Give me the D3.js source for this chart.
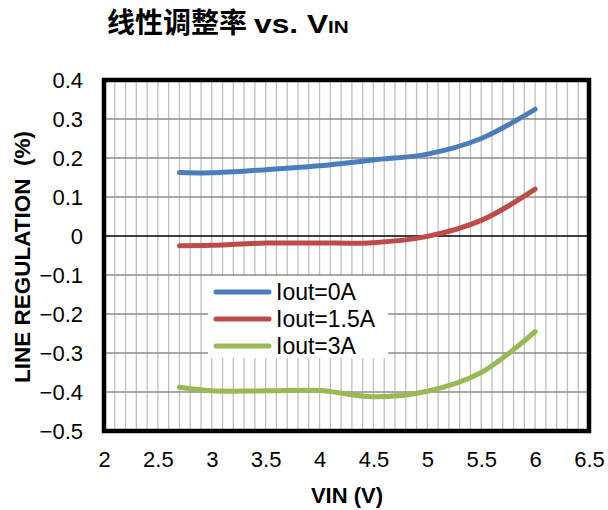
<!DOCTYPE html>
<html><head><meta charset="utf-8">
<script src="https://cdn.jsdelivr.net/npm/d3@7"></script>
<style>body{margin:0;background:#fff}svg{display:block}</style>
</head><body>
<svg id="c" width="608" height="510"></svg>
<script>
const vin = [2.7, 3.0, 3.5, 4.0, 4.5, 5.0, 5.5, 6.0];
const iout0 = [0.163, 0.162, 0.170, 0.180, 0.195, 0.210, 0.250, 0.325];
const iout15 = [-0.025, -0.024, -0.018, -0.018, -0.017, -0.001, 0.040, 0.120];
const iout3 = [-0.388, -0.397, -0.397, -0.396, -0.412, -0.398, -0.350, -0.245];
const seriesNames = ["Iout=0A", "Iout=1.5A", "Iout=3A"];
const seriesColors = ["#4A7EBB", "#BE4B48", "#98B954"];
const xTicks = [2, 2.5, 3, 3.5, 4, 4.5, 5, 5.5, 6, 6.5];
const yTicks = [0.4, 0.3, 0.2, 0.1, 0, -0.1, -0.2, -0.3, -0.4, -0.5];

const svg = d3.select("#c");
const x = d3.scaleLinear().domain([2, 6.5]).range([104, 589]);
const y = d3.scaleLinear().domain([-0.5, 0.4]).range([431, 80]);
const font = "Arial, 'Liberation Sans', sans-serif";

// vertical minor grid
const vgrid = d3.range(21, 65).map(d => d / 10);
svg.append("g").selectAll("line").data(vgrid).join("line")
  .attr("x1", d => x(d)).attr("x2", d => x(d))
  .attr("y1", y(0.4)).attr("y2", y(-0.5))
  .attr("stroke", "#BFBFBF").attr("stroke-width", 1.3);
// horizontal grid
svg.append("g").selectAll("line").data(yTicks.filter(d => d !== 0)).join("line")
  .attr("x1", x(2)).attr("x2", x(6.5))
  .attr("y1", d => y(d)).attr("y2", d => y(d))
  .attr("stroke", "#8C8C8C").attr("stroke-width", 1.4);
// zero line
svg.append("line").attr("x1", x(2)).attr("x2", x(6.5))
  .attr("y1", y(0)).attr("y2", y(0)).attr("stroke", "#000").attr("stroke-width", 1.3);

// axes (labels only)
const xAxis = d3.axisBottom(x).tickValues(xTicks).tickSize(0).tickPadding(20).tickFormat(d3.format("~g"));
const gx = svg.append("g").attr("transform", `translate(0,${y(-0.5)})`).call(xAxis);
gx.select(".domain").remove();
gx.selectAll("text").attr("font-family", font).attr("font-size", 22).attr("fill", "#000");

const yAxis = d3.axisLeft(y).tickValues(yTicks).tickSize(0).tickPadding(21).tickFormat(d3.format("~g"));
const gy = svg.append("g").attr("transform", `translate(${x(2)},0)`).call(yAxis);
gy.select(".domain").remove();
gy.selectAll("text").attr("font-family", font).attr("font-size", 22).attr("fill", "#000");

// plot border
svg.append("rect").attr("x", x(2)).attr("y", y(0.4))
  .attr("width", x(6.5) - x(2)).attr("height", y(-0.5) - y(0.4))
  .attr("fill", "none").attr("stroke", "#000").attr("stroke-width", 4.5);

// lines
const line = d3.line().x(d => x(d[0])).y(d => y(d[1])).curve(d3.curveCatmullRom.alpha(0.5));
[iout0, iout15, iout3].forEach((s, i) => {
  svg.append("path").datum(vin.map((v, j) => [v, s[j]]))
    .attr("d", line).attr("fill", "none").attr("stroke", seriesColors[i])
    .attr("stroke-width", 5).attr("stroke-linecap", "round").attr("stroke-linejoin", "round");
});

// legend
const lg = svg.append("g");
lg.append("rect").attr("x", 208).attr("y", 276).attr("width", 180).attr("height", 82).attr("fill", "#fff");
seriesNames.forEach((n, i) => {
  const yy = 292 + i * 27;
  lg.append("line").attr("x1", 216).attr("x2", 269).attr("y1", yy).attr("y2", yy)
    .attr("stroke", seriesColors[i]).attr("stroke-width", 5).attr("stroke-linecap", "round");
  lg.append("text").attr("x", 276).attr("y", yy + 8).text(n)
    .attr("font-family", font).attr("font-size", 23).attr("fill", "#000");
});

// axis titles
svg.append("text").attr("x", 347).attr("y", 503).attr("text-anchor", "middle")
  .attr("font-family", font).attr("font-weight", "bold").attr("font-size", 22).text("VIN (V)");
svg.append("text").attr("transform", `translate(30,257) rotate(-90)`).attr("text-anchor", "middle")
  .attr("font-family", font).attr("font-weight", "bold").attr("font-size", 22.5)
  .attr("xml:space", "preserve").style("white-space", "pre").text("LINE REGULATION  (%)");

// title
svg.append("text").attr("x", 107).attr("y", 33).attr("font-weight", "bold").attr("fill", "#000")
  .attr("font-family", "'Noto Sans CJK SC', sans-serif").attr("font-size", 28).text("线性调整率");
const t2 = svg.append("text").attr("transform", "translate(254,33) scale(1.22,1)")
  .attr("font-weight", "bold").attr("fill", "#000").attr("font-family", font);
t2.append("tspan").attr("font-size", 26).text("vs. V");
t2.append("tspan").attr("font-size", 17).text("IN");
</script>
</body></html>
